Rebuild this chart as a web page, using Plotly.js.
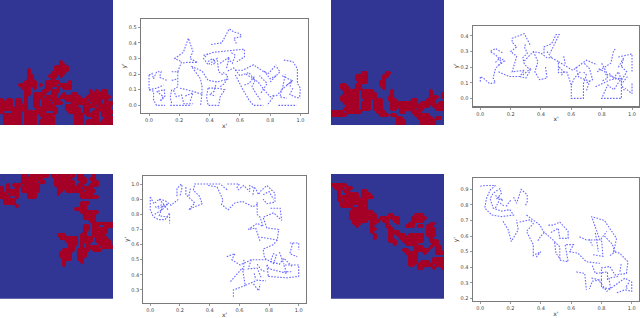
<!DOCTYPE html>
<html><head><meta charset="utf-8">
<script src="https://cdn.plot.ly/plotly-3.0.1.min.js"></script>
<style>html,body{margin:0;padding:0;background:#fff}#c{width:640px;height:318px}</style>
</head><body><div id="c"></div>
<script>
const blob1 = ["","","","","","","","","","","","","","","","","","","","",
"....................#",
"....................##",
"..................#####",
".........#........#####",
".........#.......#####",
".........##.....###.#",
".........##......#",
"........####...#####...#",
"......######.#.####.####",
".......###.#...##..#.###",
"........##....##.###..........#.#.##",
"........##.####..##..#..##....######",
"........#..###.####.#######..########",
"#.##.##.#..##.##.###..#######.####.#",
"####.##.#..##.###.###...######.###.###",
"####.####..##.####....####..####.####",
"#########...#######...#####.##..#####",
"#...###.#######...#....####.##.##.####",
".######.####.#####.......###.####.###",
".######.####..####.......###...##..###",
".######.####.#####.......###.####.####",
".######.####.#####.......###.#########"];
const blob2 = ["","","","","","","","","","","","","","","","","","","","","","","","",
"..........##......##",
"........####.....##",
"........####.....#",
".........###....##",
"...##...##......##",
"...###..##.......#",
"....#####.####......#............#",
"....#####.#####.....#............#...#",
"...######.#####....##............###.##",
"...######..##.###..###.....##...###",
"....#####.###.###...#########.#####.##",
".....####.###.###...#############.####",
"....#####.###.###...##.#####.##....###",
"####.#####.....###.....##..###",
"#####...........###.##......#####.",
"......................##.....#####.##",
"......................###.....#####",
"......................###.....#####"];
const blob3 = [
".......##.######.########.##...#",
".......#######....######..###.##",
".......#####.##...#######..##..##",
"..#.###.#####.....#######.##..###",
"#.#..#.######......########.###",
"#.####.######......##.######.###",
"##.###...###.......#.......####",
"###..#...###...............######",
".####...........................",
".####......................###",
".....#.....................##",
".........................####",
"...........................######",
"............................####",
"............................####",
"..............................##",
"...............................#######",
"............................##.##..###",
"............................##.#####",
"............................#..#####",
"...................###.....##..####",
"....................######.####.####",
"......................####.####.#####",
".......................###.#.#...####",
".......................##..#.####.####",
".....................####.####.###",
"....................####..###",
"....................####..###",
".....................###..##",
".....................#.....#",
".....................#"];
const blob4 = ["","","",
"#####",
".###.##",
"..#.##....##",
"..#..####.###",
"..#######.####",
"..#.########",
"...#########",
"...####..###",
".......#####",
"......########",
"......#########....##.......###",
"......#########.###.###....#####",
".......#####.###.##..##....####",
".......###...##...#...#...##.....##",
"........#....#....##.....###.##.##",
".............##....##...........###",
".............#.....####.........###",
"..............#....##.###.#####.###",
"..............#....##..########..#",
"...................###..#######..###",
".....................#...####.....##",
"............................###..#.##",
"........................##..#####..##",
".........................####..#...###",
"..........................###",
"..........................###.....#####",
"..........................###.###.#####",
"..........................##.#####.####",
".............................##...#..#"];

const x1 = [0,0,.03,.03,.05,.106,null, 0,.02,.03,.05,.08,.07,.117,null, 0,.05,.095,null, .05,.095,.07,null, .14,.28,null,
 .15,.19,.19,.16,.18,.215,.23,.29,null, .19,.215,.17,.227,.26,.27,.29,.27,.32,.25,.22,null,
 .205,.29,.35,.35,.34,.28,.35,.39,.45,.5,.53,null, .35,.34,null, .39,.38,.39,.46,.47,.5,.45,.39,null,
 .36,.43,.53,.63,.63,.58,null, .41,.48,.53,.56,.6,.61,.56,.58,null, .39,.36,.39,.45,.46,.49,null, .47,.53,.51,null,
 .57,.62,.69,.75,.79,.84,null, .57,.62,.66,.69,.755,null, .64,.72,.76,.8,.83,.78,null,
 .89,.95,.98,.98,1,.995,null, .855,.975,null, .91,.95,.875,.865,.91,null, .95,.93,.96,1,null, .8,.865,.84,null, .74,.78,.73,null, .84,.88,.9,null,
 .06,.1,.105,.08,null, .15,.19,null, .15,.14,.15,null, .24,.29,.27,null, .44,.43,.4,.44,null,
 .52,.56,.6,.66,.7,.68,.71,.74,null, .63,.66,.7,null, .76,.8,.84,null, .88,.94,.93,null,
 .47,.5,.52,.49,null, .39,.42,.44,.41,null, .52,.55,.57,.54];
const y1 = [.195,.1,.09,.035,0,0,null, .195,.205,.17,.215,.215,.18,.16,null, .1,.11,.13,null, .09,.055,.025,null, 0,0,null,
 .215,.215,.12,.1,.055,.066,.01,.01,null, .215,.28,.3,.34,.43,.4,.345,.3,.275,.275,.27,null,
 .11,.09,.07,.12,.17,.25,.22,.16,.15,.16,.17,null, .07,0,null, .11,.055,0,0,.055,.1,.11,.11,null,
 .32,.34,.35,.36,.31,.28,null, .39,.4,.49,.47,.46,.44,.43,.39,null, .33,.3,.26,.3,.215,.195,null, .27,.31,.23,null,
 .225,.225,.26,.22,.205,.26,null, .195,.1,.035,0,0,null, .2,.15,.1,.055,.066,0,null,
 .29,.28,.235,.14,.11,.055,null, 0,0,null, .13,.16,.1,.055,.045,null, .11,.07,.055,.045,null, .15,.215,.25,null, .08,.14,.19,null, .06,.1,.2,null,
 .09,.1,.06,.03,null, .16,.17,null, .1,.05,.01,null, .06,.08,.02,null, .13,.09,.07,.06,null,
 .22,.24,.19,.21,.16,.12,.07,.03,null, .13,.14,.19,null, .22,.17,.19,null, .19,.16,.11,null,
 .12,.14,.19,.21,null, .28,.3,.27,.26,null, .3,.27,.32,.34];

const x2 = [0,0,.02,.04,.06,.1,.085,.1,.14,.1,.065,.1,.15,null,
 .12,.19,.26,.29,.21,.24,.2,.24,.21,.21,.29,.33,null, .26,.3,.33,.29,.28,.31,.29,.3,null, .28,.33,.34,null,
 .29,.35,.4,.44,.47,.515,.515,.57,.6,.6,.68,.68,.7,.68,null, .35,.38,.36,.39,.44,.43,null,
 .42,.42,.47,.5,.52,.48,.46,null, .44,.47,null, .55,.56,null, .515,.61,.7,.77,null, .63,.65,.72,.7,null,
 .76,.86,.93,.88,.84,.8,.93,.93,.965,.93,null, .77,.86,.88,.89,null, .8,.84,.93,null, .91,.975,1,1,null, 1,1,.955,null, .91,.945,.93,null,
 .6,.62,.66,null, .7,.74,.72,.68,null, .93,.91,.88,.85,null, .97,.93,.95,null, .78,.82,.84,.8,null, .52,.55,.53,null, .1,.13,.16,.12];
const y2 = [.107,.14,.13,.115,.095,.1,.13,.19,.235,.28,.3,.32,.29,null,
 .17,.14,.14,.18,.17,.27,.3,.33,.36,.385,.415,.34,null, .14,.13,.18,.22,.26,.29,.33,.35,null, .15,.19,.18,null,
 .24,.3,.29,.26,.26,.235,.165,.17,.085,0,0,.095,.15,.17,null, .3,.235,.17,.12,.13,.2,null,
 .29,.33,.35,.41,.41,.33,.29,null, .3,.26,null, .27,.22,null, .235,.18,.245,.215,null, .2,.135,.11,.05,null,
 .075,.12,.13,.055,.085,0,0,.115,.17,.205,null, .17,.225,.31,.315,null, .225,.15,.115,null, .265,.28,.285,.17,null, .095,.03,.065,null, .2,.26,.205,null,
 .085,.13,.17,null, .1,.12,.19,.23,null, .12,.17,.13,.16,null, .14,.09,.05,null, .19,.17,.13,.11,null, .2,.17,.14,null, .23,.26,.24,.21];

const x3 = [0,0,.02,.055,.1,.13,.13,null, 0,.025,.06,.1,.14,.19,null, .03,.08,.12,.06,.03,null, .18,.18,.21,.215,.2,null,
 .24,.24,.3,.26,.3,.35,.33,.29,.3,.42,.47,.52,null, .39,.45,.49,.48,.525,.57,.62,.69,.73,null,
 .52,.6,.58,null, .59,.63,.67,.67,.71,.73,.74,.785,.84,.84,.785,.76,null, .72,.72,.74,.76,.72,.66,.71,.74,null,
 .81,.875,.885,.83,.76,.785,.865,.855,.74,null, .855,.83,.76,.77,.83,.85,.83,.81,.87,.9,.96,null, .96,.94,.99,null, .94,1,1,null,
 .515,.57,.55,.605,.68,.78,null, .54,.62,.64,.72,.78,null, .56,.56,.64,null, .695,.73,.74,null, .68,.66,.72,.75,null,
 .795,.92,1,1,.9,.92,.8,.785,.795,null,
 .87,.89,.9,null, .63,.63,null, .7,.71,null, .72,.75,.78,null, .9,.95,null, .05,.09,.06,.12,null, .06,.12,null, .27,.26,null, .76,.8,.83,null, .7,.69];
const y3 = [.915,.83,.785,.765,.765,.81,.74,null, .915,.87,.9,.89,.86,.9,null, .8,.83,.87,.84,.85,null, .92,.97,1,.98,.92,null,
 .98,.93,.875,.83,.85,.87,.92,.96,1,1,1,.96,null, .99,.98,.895,.865,.83,.875,.885,.85,.87,null,
 1,1,.97,null, .96,.99,.95,.99,.97,.93,.95,.99,.94,.88,.87,.9,null, .88,.8,.78,.72,.74,.7,.71,.62,null,
 .84,.84,.76,.81,.78,.71,.7,.63,.65,null, .63,.6,.57,.51,.475,.53,.54,.49,.47,.51,.45,null, .61,.54,.52,null, .61,.61,.565,null,
 .52,.54,.5,.465,.5,.5,null, .355,.445,.33,.365,.36,null, .255,.3,.33,null, .34,.295,.34,null, .5,.44,.445,.375,null,
 .39,.38,.39,.465,.465,.41,.44,.47,.39,null,
 .55,.5,.47,null, .5,.42,null, .41,.37,null, .47,.43,.42,null, .42,.42,null, .85,.87,.79,.78,null, .9,.83,null, .97,.92,null, .93,.95,.9,null, .98,.92];

const x4 = [0,.03,.1,.065,.04,.03,.075,.14,.22,.195,.14,.085,.065,.085,.13,.14,.11,.15,.1,null,
 .22,.24,.27,.31,.31,.295,null, .15,.185,.205,.25,.24,null, .26,.33,.35,.305,.35,.35,.4,.37,null,
 .305,.395,.415,.48,.525,.525,.58,.56,.615,.59,.645,.7,.79,null, .45,.48,.525,.58,.58,.525,.515,.46,null,
 .655,.7,.79,.78,.735,.82,.9,.88,.92,.975,.965,.89,.855,.8,.8,.74,.72,null, .745,.81,.8,.835,null,
 .635,.69,.7,null, .735,.78,.835,.89,.955,1,1,.955,.9,null,
 .82,.87,.89,.85,null, .76,.78,null, .72,.74,null, .91,.85,.86,.8,.8,null, .74,.76,.84,.84,null, .93,.92,null, .98,.96,.98,null, .49,.5,.53,null, .1,.12,.16,null, .2,.17,null, .38,.4,.43];
const y4 = [.92,.925,.925,.895,.84,.78,.735,.725,.735,.77,.76,.78,.84,.875,.905,.875,.84,.83,.86,null,
 .85,.81,.9,.865,.82,.79,null, .695,.64,.565,.64,.705,null, .69,.705,.68,.63,.545,.475,.5,.465,null,
 .735,.67,.63,.575,.53,.445,.435,.545,.545,.5,.49,.435,.425,null, .67,.67,.69,.63,.585,.585,.65,.62,null,
 .595,.575,.575,.605,.725,.7,.585,.5,.49,.435,.36,.35,.405,.395,.32,.31,.26,null, .48,.47,.585,.63,null,
 .37,.36,.255,null, .33,.32,.245,.285,.33,.305,.245,.255,.235,null,
 .6,.55,.5,.47,null, .62,.5,null, .58,.54,null, .34,.33,.26,.27,.32,null, .41,.36,.37,.31,null, .42,.36,null, .3,.27,.26,null, .56,.49,.45,null, .78,.82,.79,null, .83,.79,null, .57,.6,.63];

const W=640,H=318;
const BLUE='#313695',RED='#a50026',COLS=38,ROWS=42;
const grid=r=>Array.from({length:ROWS},(_,i)=>{const s=(r[i]||'').padEnd(COLS,'.');return Array.from(s.slice(0,COLS),c=>c==='#'?1:0);});
const dx=(a,b)=>[a/W,b/W], dy=(t,b)=>[1-b/H,1-t/H];

const heat=[[blob1,0,113,0,125],[blob2,331,444,0,125],[blob3,0,113,174,298.7],[blob4,331,444,174,298.7]];
const scat=[
 [x1,y1,141,308,19,113,[-.053,1.05],[-.049,.553],[0,.1,.2,.3,.4,.5]],
 [x2,y2,472.7,639.3,25.7,106.3,[-.05,1.048],[-.051,.466],[0,.1,.2,.3,.4]],
 [x3,y3,143.3,306,176,303,[-.047,1.049],[.214,1.053],[.3,.4,.5,.6,.7,.8,.9,1]],
 [x4,y4,472.7,639,178.3,301,[-.05,1.048],[.183,.971],[.2,.3,.4,.5,.6,.7,.8,.9]]];
const traces=[],layout={width:W,height:H,margin:{l:0,r:0,t:0,b:0},paper_bgcolor:'#fff',plot_bgcolor:'#fff',showlegend:false};
let n=1;
const fnt={family:'DejaVu Sans',size:5,color:'#444'};
heat.forEach(h=>{
 const k=n===1?'':n;
 traces.push({type:'heatmap',z:grid(h[0]),xaxis:'x'+k,yaxis:'y'+k,zmin:0,zmax:1,showscale:false,zsmooth:'best',
   colorscale:[[0,BLUE],[.2,BLUE],[.45,RED],[1,RED]],hoverinfo:'skip'});
 layout['xaxis'+k]={domain:dx(h[1],h[2]),range:[-.5,COLS-.5],visible:false,fixedrange:true,anchor:'y'+k};
 layout['yaxis'+k]={domain:dy(h[3],h[4]),range:[ROWS-.5,-.5],visible:false,fixedrange:true,anchor:'x'+k};
 n++;
});
scat.forEach(s=>{
 const k=n;
 traces.push({type:'scatter',mode:'lines',x:s[0],y:s[1],xaxis:'x'+k,yaxis:'y'+k,hoverinfo:'skip',
   line:{color:'rgb(105,105,255)',width:1.1,dash:'1.6px,1.4px'}});
 const ax={showgrid:false,zeroline:false,showline:true,mirror:true,linecolor:'#7a7a7a',linewidth:1.2,ticks:'outside',ticklen:2,tickwidth:.6,tickcolor:'#555',tickfont:fnt,fixedrange:true};
 layout['xaxis'+k]=Object.assign({},ax,{anchor:'y'+k,domain:dx(s[2],s[3]),range:s[6],tickvals:[0,.2,.4,.6,.8,1],ticktext:['0.0','0.2','0.4','0.6','0.8','1.0'],
   title:{text:"x'",font:{family:'DejaVu Sans',size:6,color:'#333'},standoff:1}});
 layout['yaxis'+k]=Object.assign({},ax,{anchor:'x'+k,domain:dy(s[4],s[5]),range:s[7],tickvals:s[8],ticktext:s[8].map(v=>v.toFixed(1)),
   title:{text:"y'",font:{family:'DejaVu Sans',size:6,color:'#333'},standoff:1}});
 n++;
});
Plotly.newPlot('c',traces,layout,{displayModeBar:false,staticPlot:true});
</script></body></html>
